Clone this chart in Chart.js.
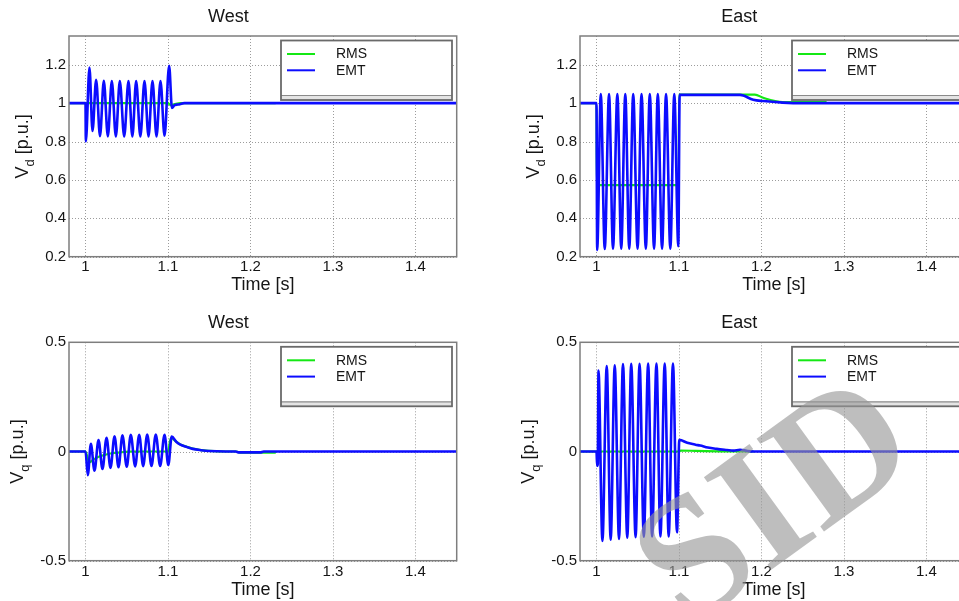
<!DOCTYPE html>
<html>
<head>
<meta charset="utf-8">
<script src="https://cdn.jsdelivr.net/npm/chart.js@4.4.0/dist/chart.umd.min.js"></script>
<style>
  html, body { margin: 0; padding: 0; background: #fff; overflow: hidden; }
  #page { position: relative; width: 959px; height: 601px; overflow: hidden; background: #fff; }
  .panel { position: absolute; }
  .panel canvas { display: block; }
  #mark { position: absolute; left: 0; top: 0; pointer-events: none; }
</style>
</head>
<body>
<div id="page">
  <div class="panel" style="left:0;top:0"><canvas id="c1" width="470" height="300"></canvas></div>
  <div class="panel" style="left:511px;top:0"><canvas id="c2" width="470" height="300"></canvas></div>
  <div class="panel" style="left:0;top:300px"><canvas id="c3" width="470" height="301"></canvas></div>
  <div class="panel" style="left:511px;top:300px"><canvas id="c4" width="470" height="301"></canvas></div>
  <canvas id="mark" width="959" height="601"></canvas>
</div>
<script>
// ---- axis ticks ----
const timeTicks = [1, 1.1, 1.2, 1.3, 1.4];
const vdTicks = [0.2, 0.4, 0.6, 0.8, 1, 1.2];
const vqTicks = [-0.5, 0, 0.5];
const seriesNames = ['RMS', 'EMT'];

// ---- West, d-axis voltage ----
const westVdRmsT = [0.98, 1.0, 1.1, 1.103, 1.108, 1.115, 1.23];
const westVdRmsV = [1, 1, 1, 0.99, 0.995, 1, 1];
const westVdEmtT = [0.98, 1.0, 1.0004, 1.0048, 1.0085, 1.0129, 1.0176, 1.0222, 1.0271, 1.0319, 1.0368, 1.0416, 1.0469, 1.0521, 1.0568, 1.0614, 1.0665, 1.0715, 1.0764, 1.0812, 1.0861, 1.0909, 1.0958, 1.1014, 1.1048, 1.108, 1.112, 1.12, 1.45];
const westVdEmtV = [1, 1, 0.80, 1.185, 0.855, 1.122, 0.828, 1.116, 0.827, 1.115, 0.826, 1.115, 0.826, 1.115, 0.826, 1.115, 0.826, 1.115, 0.826, 1.115, 0.826, 1.115, 0.83, 1.195, 0.975, 0.99, 0.993, 1, 1];

// ---- East, d-axis voltage ----
const eastVdRmsT = [0.98, 1.0, 1.0003, 1.0997, 1.1, 1.192, 1.202, 1.21, 1.222, 1.24, 1.278];
const eastVdRmsV = [1, 1, 0.573, 0.573, 1.045, 1.045, 1.028, 1.018, 1.007, 1.005, 1.005];
const eastVdEmtT = [0.98, 1.0, 1.0008, 1.0052, 1.01, 1.0152, 1.02, 1.0253, 1.03, 1.0349, 1.0397, 1.0445, 1.0498, 1.0546, 1.0598, 1.0646, 1.0698, 1.0743, 1.0795, 1.0843, 1.0895, 1.0943, 1.0992, 1.1008, 1.174, 1.19, 1.202, 1.226, 1.25, 1.45];
const eastVdEmtV = [1, 1, 0.235, 1.048, 0.24, 1.048, 0.242, 1.048, 0.242, 1.048, 0.242, 1.048, 0.242, 1.048, 0.242, 1.048, 0.242, 1.048, 0.242, 1.048, 0.242, 1.048, 0.255, 1.043, 1.043, 1.018, 1.011, 1.003, 1.0, 1.0];

// ---- West, q-axis voltage ----
const westVqRmsT = [0.98, 1.0, 1.0045, 1.01, 1.016, 1.024, 1.032, 1.042, 1.052, 1.07, 1.1, 1.1035, 1.11, 1.115, 1.123, 1.13, 1.14, 1.15, 1.17, 1.183, 1.187, 1.23];
const westVqRmsV = [0, 0, -0.05, -0.036, -0.024, -0.015, -0.008, -0.004, -0.001, 0, 0, 0.062, 0.045, 0.032, 0.021, 0.013, 0.006, 0.003, 0, 0, -0.005, -0.005];
const westVqEmtT = [0.98, 1.0, 1.0028, 1.0065, 1.0109, 1.0158, 1.0206, 1.0255, 1.0303, 1.0352, 1.04, 1.0448, 1.05, 1.0549, 1.0602, 1.0651, 1.0699, 1.0748, 1.08, 1.0852, 1.0905, 1.0958, 1.1004, 1.1045, 1.11, 1.115, 1.123, 1.13, 1.14, 1.15, 1.17, 1.182, 1.186, 1.212, 1.216, 1.45];
const westVqEmtV = [0, 0, -0.108, 0.035, -0.088, 0.052, -0.08, 0.063, -0.075, 0.07, -0.072, 0.074, -0.07, 0.076, -0.068, 0.077, -0.067, 0.078, -0.066, 0.078, -0.066, 0.077, -0.062, 0.068, 0.045, 0.031, 0.02, 0.012, 0.006, 0.002, 0, 0, -0.004, -0.004, 0, 0];

// ---- East, q-axis voltage ----
const eastVqRmsT = [0.98, 1.1, 1.102, 1.12, 1.15, 1.19];
const eastVqRmsV = [0, 0, 0.004, 0.003, 0.001, 0];
const eastVqEmtT = [0.98, 1.0, 1.0008, 1.0016, 1.0024, 1.0072, 1.0124, 1.0172, 1.0221, 1.0273, 1.0321, 1.0373, 1.0421, 1.0474, 1.0522, 1.0574, 1.0626, 1.0674, 1.0727, 1.0775, 1.0827, 1.0875, 1.0927, 1.0976, 1.1004, 1.11, 1.12, 1.1257, 1.135, 1.1458, 1.158, 1.166, 1.174, 1.182, 1.19, 1.45];
const eastVqEmtV = [0, 0, -0.065, -0.055, 0.371, -0.41, 0.391, -0.404, 0.395, -0.4, 0.4, -0.395, 0.401, -0.392, 0.402, -0.39, 0.403, -0.389, 0.403, -0.389, 0.403, -0.389, 0.403, -0.37, 0.053, 0.04, 0.031, 0.027, 0.018, 0.012, 0.007, 0.004, 0.008, 0.003, 0, 0];

// ---- styling ----
const FONT = '"Liberation Sans", Arial, Helvetica, sans-serif';
const TEXT = '#151515';
const RMS_COLOR = 'rgb(20,232,20)';
const EMT_COLOR = 'rgb(12,12,255)';

Chart.defaults.font.family = FONT;
Chart.defaults.color = TEXT;

const pairs = (t, v) => t.map((x, i) => ({ x, y: v[i] }));

// dotted grid and the grey axes box
const axesFrame = {
  id: 'axesFrame',
  beforeDatasetsDraw(chart) {
    const { ctx, chartArea: a, scales: { x, y } } = chart;
    ctx.save();
    ctx.strokeStyle = '#9c9c9c';
    ctx.lineWidth = 1;
    ctx.setLineDash([1, 2]);
    x.ticks.forEach(t => {
      const px = Math.round(x.getPixelForValue(t.value)) + 0.5;
      ctx.beginPath(); ctx.moveTo(px, a.top); ctx.lineTo(px, a.bottom); ctx.stroke();
    });
    y.ticks.forEach(t => {
      const py = Math.round(y.getPixelForValue(t.value)) + 0.5;
      ctx.beginPath(); ctx.moveTo(a.left, py); ctx.lineTo(a.right, py); ctx.stroke();
    });
    ctx.restore();
  },
  afterDatasetsDraw(chart) {
    const { ctx, chartArea: a } = chart;
    ctx.save();
    ctx.strokeStyle = '#7e7e7e';
    ctx.lineWidth = 1.5;
    ctx.strokeRect(a.left, a.top, a.right - a.left, a.bottom - a.top);
    ctx.restore();
  }
};

// boxed legend in the upper right of each axes
const boxedLegend = {
  id: 'boxedLegend',
  afterDatasetsDraw(chart) {
    const { ctx, chartArea: a } = chart;
    const L = a.left + 212, T = a.top + 4.5, W = 171, H = 59.5, S = 55;
    ctx.save();
    ctx.fillStyle = '#fff';
    ctx.fillRect(L, T, W, H);
    ctx.fillStyle = '#e4e4e4';
    ctx.fillRect(L, T + S, W, H - S);
    ctx.strokeStyle = '#8a8a8a';
    ctx.lineWidth = 1.2;
    ctx.beginPath(); ctx.moveTo(L, T + S); ctx.lineTo(L + W, T + S); ctx.stroke();
    ctx.strokeStyle = '#6a6a6a';
    ctx.lineWidth = 1.8;
    ctx.strokeRect(L, T, W, H);
    const rows = [T + 13.5, T + 29.8];
    chart.data.datasets.forEach((ds, i) => {
      ctx.strokeStyle = ds.borderColor;
      ctx.lineWidth = 2;
      ctx.beginPath(); ctx.moveTo(L + 6, rows[i]); ctx.lineTo(L + 34, rows[i]); ctx.stroke();
      ctx.fillStyle = TEXT;
      ctx.font = '14px ' + FONT;
      ctx.textBaseline = 'middle';
      ctx.textAlign = 'left';
      ctx.fillText(ds.label, L + 55, rows[i] + 0.5);
    });
    ctx.restore();
  }
};

// vertical axis title with a subscript: V_d [p.u.]
const subscriptYTitle = {
  id: 'subscriptYTitle',
  afterDraw(chart, args, opts) {
    const { ctx, chartArea: a, scales: { y } } = chart;
    ctx.save();
    ctx.font = '15px ' + FONT;
    const widest = Math.max(...y.ticks.map(t => ctx.measureText(String(t.value)).width));
    const bx = a.left - 3 - widest - 17;
    const cy = (a.top + a.bottom) / 2;
    const main = '18px ' + FONT, small = '13px ' + FONT;
    ctx.font = main; const wV = ctx.measureText('V').width; const wRest = ctx.measureText(' [p.u.]').width;
    ctx.font = small; const wSub = ctx.measureText(opts.sub).width;
    const total = wV + wSub + wRest;
    ctx.translate(bx, cy);
    ctx.rotate(-Math.PI / 2);
    ctx.fillStyle = TEXT;
    ctx.textBaseline = 'alphabetic';
    ctx.textAlign = 'left';
    let x0 = -total / 2;
    ctx.font = main; ctx.fillText('V', x0, 0);
    ctx.font = small; ctx.fillText(opts.sub, x0 + wV, 6);
    ctx.font = main; ctx.fillText(' [p.u.]', x0 + wV + wSub, 0);
    ctx.restore();
  }
};

const rows = {
  top:    { H: 300, plotTop: 36,   plotBottom: 256.7, titleC: 16.7, tickC: 266.7, xTitleC: 285.5 },
  bottom: { H: 301, plotTop: 42.3, plotBottom: 260.7, titleC: 23.3, tickC: 271.7, xTitleC: 290 }
};
const PLOT_LEFT = 69, PLOT_RIGHT = 456.7, CANVAS_W = 470;

const panels = [
  { id: 'c1', row: 'top',    title: 'West', sub: 'd', yMin: 0.2,  yMax: 1.35, yTicks: vdTicks, rms: [westVdRmsT, westVdRmsV], emt: [westVdEmtT, westVdEmtV] },
  { id: 'c2', row: 'top',    title: 'East', sub: 'd', yMin: 0.2,  yMax: 1.35, yTicks: vdTicks, rms: [eastVdRmsT, eastVdRmsV], emt: [eastVdEmtT, eastVdEmtV] },
  { id: 'c3', row: 'bottom', title: 'West', sub: 'q', yMin: -0.5, yMax: 0.5,  yTicks: vqTicks, rms: [westVqRmsT, westVqRmsV], emt: [westVqEmtT, westVqEmtV] },
  { id: 'c4', row: 'bottom', title: 'East', sub: 'q', yMin: -0.5, yMax: 0.5,  yTicks: vqTicks, rms: [eastVqRmsT, eastVqRmsV], emt: [eastVqEmtT, eastVqEmtV] }
];

panels.forEach(p => {
  const r = rows[p.row];
  new Chart(document.getElementById(p.id), {
    type: 'line',
    data: {
      datasets: [
        { label: seriesNames[0], data: pairs(p.rms[0], p.rms[1]), borderColor: RMS_COLOR, borderWidth: 2.2, order: 1 },
        { label: seriesNames[1], data: pairs(p.emt[0], p.emt[1]), borderColor: EMT_COLOR, borderWidth: 2.6, order: 0 }
      ]
    },
    options: {
      responsive: false,
      animation: false,
      events: [],
      layout: { autoPadding: false, padding: { left: 0, top: 0, bottom: 0, right: CANVAS_W - PLOT_RIGHT } },
      elements: {
        point: { radius: 0 },
        line: { fill: false, cubicInterpolationMode: 'monotone', borderJoinStyle: 'round', borderCapStyle: 'round' }
      },
      scales: {
        x: {
          type: 'linear', min: 0.98, max: 1.45,
          afterBuildTicks: s => { s.ticks = timeTicks.map(v => ({ value: v })); },
          afterFit: s => { s.height = r.H - r.plotBottom; },
          grid: { display: false, drawTicks: false },
          border: { display: false },
          ticks: { autoSkip: false, maxRotation: 0, padding: r.tickC - r.plotBottom - 9, font: { size: 15 }, color: TEXT, callback: v => String(v) },
          title: { display: true, text: 'Time [s]', font: { size: 18 }, color: TEXT, padding: { top: 0, bottom: r.H - r.xTitleC - 10.8 } }
        },
        y: {
          type: 'linear', min: p.yMin, max: p.yMax,
          afterBuildTicks: s => { s.ticks = p.yTicks.map(v => ({ value: v })); },
          afterFit: s => { s.width = PLOT_LEFT; },
          grid: { display: false, drawTicks: false },
          border: { display: false },
          ticks: { autoSkip: false, padding: 3, font: { size: 15 }, color: TEXT, callback: v => String(v) }
        }
      },
      plugins: {
        legend: { display: false },
        tooltip: { enabled: false },
        title: {
          display: true, text: p.title, color: TEXT,
          font: { size: 18, weight: 'normal' },
          padding: { top: r.titleC - 10.8, bottom: r.plotTop - r.titleC - 10.8 }
        },
        subscriptYTitle: { sub: p.sub }
      }
    },
    plugins: [axesFrame, boxedLegend, subscriptYTitle]
  });
});

// archive stamp across the lower right
(function () {
  const c = document.getElementById('mark');
  const ctx = c.getContext('2d');
  ctx.save();
  ctx.translate(771, 497);
  ctx.rotate(-36 * Math.PI / 180);
  ctx.font = 'bold 175px "Liberation Serif", "Times New Roman", serif';
  ctx.fillStyle = 'rgba(150,150,150,0.62)';
  ctx.textBaseline = 'alphabetic';
  ctx.textAlign = 'center';
  ctx.fillText('SID', 0, 59);
  ctx.restore();
})();
</script>
</body>
</html>
